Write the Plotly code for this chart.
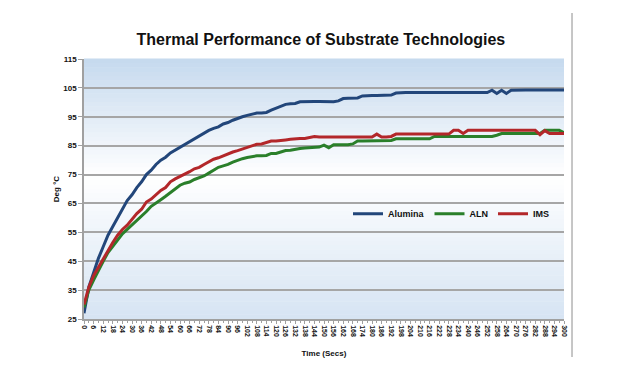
import plotly.graph_objects as go

time_s = list(range(0, 301, 3))

alumina = [27, 36, 41, 46, 50, 54, 57, 60, 63, 66,
           68, 70.5, 72.5, 75, 76.5, 78.5, 80, 81, 82.5, 83.5,
           84.5, 85.5, 86.5, 87.5, 88.5, 89.5, 90.3, 91, 91.5, 92.5,
           93, 93.8, 94.5, 95, 95.5, 96, 96.3, 96.3, 96.5, 97.3,
           98, 98.5, 99.3, 99.5, 99.6, 100.2, 100.3, 100.3, 100.3, 100.3,
           100.3, 100.2, 100.2, 100.5, 101.3, 101.4, 101.4, 101.5, 102.2, 102.4,
           102.4, 102.4, 102.4, 102.4, 102.5, 103.2, 103.4, 103.4, 103.4, 103.4,
           103.4, 103.4, 103.4, 103.4, 103.4, 103.4, 103.4, 103.4, 103.4, 103.4,
           103.4, 103.4, 103.4, 103.4, 103.4, 104.2, 103.1, 104.2, 103.1, 104.2,
           104.3, 104.3, 104.3, 104.3, 104.3, 104.3, 104.3, 104.3, 104.3, 104.3,
           104.3]

aln = [29, 35, 38.5, 42, 45, 48, 50.3, 52.5, 54.5, 56,
       57.5, 59.3, 60.8, 62.2, 64, 65.3, 66.3, 67.5, 68.7, 69.8,
       71.3, 72, 72.4, 73.3, 74, 74.5, 75.5, 76.5, 77.5, 78,
       78.5, 79.3, 80, 80.5, 80.9, 81.2, 81.5, 81.5, 81.6, 82.3,
       82.3, 82.8, 83.3, 83.4, 83.8, 84, 84.2, 84.3, 84.3, 84.5,
       85.2, 84.3, 85.3, 85.3, 85.3, 85.3, 85.6, 86.6, 86.6, 86.6,
       86.6, 86.6, 86.6, 86.6, 86.8, 87.4, 87.4, 87.4, 87.4, 87.4,
       87.4, 87.4, 87.4, 88.2, 88.2, 88.2, 88.2, 88.2, 88.2, 88.2,
       88.2, 88.2, 88.2, 88.2, 88.2, 88.2, 88.6, 89.2, 89.2, 89.2,
       89.2, 89.2, 89.2, 89.2, 89.2, 89.2, 90.3, 90.3, 90.3, 90.3,
       89.5]

ims = [30, 36, 40, 43, 46, 49, 51.5, 54, 56, 57.5,
       59.5, 61.5, 63, 65.5, 66.5, 68, 69.5, 70.5, 72.5, 73.5,
       74.3, 75, 76, 77, 77.5, 78.5, 79.5, 80.3, 80.8, 81.5,
       82, 82.8, 83.3, 83.8, 84.3, 85, 85.5, 85.6, 86.2, 86.6,
       86.6, 86.7, 87, 87.2, 87.4, 87.5, 87.5, 87.8, 88.2, 88,
       88, 88, 88, 88, 88, 88, 88, 88, 88, 88,
       88, 89, 88, 88, 88.2, 89, 89, 89, 89, 89,
       89, 89, 89, 89, 89, 89, 89, 90.3, 90.3, 89.2,
       90.3, 90.3, 90.3, 90.3, 90.3, 90.3, 90.3, 90.3, 90.3, 90.3,
       90.3, 90.3, 90.3, 90.3, 90.3, 88.8, 90.2, 89.2, 89.2, 89.2,
       89.2]

x_tick_vals = list(range(0, 301, 6))
x_tick_text = [str(v) for v in x_tick_vals]
y_tick_vals = list(range(25, 116, 10))

series_names = ["Alumina", "ALN", "IMS"]
series_colors = ["#22467a", "#2a7f2a", "#b3272a"]
series_values = [alumina, aln, ims]

FONT = "Liberation Sans, Arial, sans-serif"

fig = go.Figure()
for name, col, vals in zip(series_names, series_colors, series_values):
    fig.add_trace(go.Scatter(x=time_s, y=vals, mode="lines", name="<b>%s</b>" % name,
                             line=dict(color=col, width=3)))

# gradient plot background (decorative bands)
def lerp(c1, c2, f):
    return tuple(round(a + (b - a) * f) for a, b in zip(c1, c2))

top_c = (197, 217, 238)
mid_c = (255, 255, 255)
bot_c = (214, 228, 243)
n_bands = 60
mid_pos = 0.55
shapes = []
for i in range(n_bands):
    y0 = i / n_bands
    y1 = (i + 1) / n_bands
    yc = (y0 + y1) / 2
    if yc < mid_pos:
        c = lerp(bot_c, mid_c, yc / mid_pos)
    else:
        c = lerp(mid_c, top_c, (yc - mid_pos) / (1 - mid_pos))
    shapes.append(dict(type="rect", xref="x domain", yref="y domain",
                       x0=0, x1=1, y0=y0, y1=y1 + 0.002, layer="below",
                       line=dict(width=0), fillcolor="rgb(%d,%d,%d)" % c))
shapes.append(dict(type="line", xref="paper", yref="paper",
                   x0=1.0167, x1=1.0167, y0=-0.146, y1=1.177,
                   line=dict(color="#a0a0a0", width=1.2)))

fig.update_layout(
    width=622, height=384,
    margin=dict(l=76, r=66, t=51, b=73, autoexpand=False),
    paper_bgcolor="white",
    plot_bgcolor="rgba(0,0,0,0)",
    shapes=shapes,
    title=dict(text="<b>Thermal Performance of Substrate Technologies</b>",
               x=0.503, xanchor="center", y=0.917, yanchor="middle",
               font=dict(family=FONT, size=16, color="#111111")),
    legend=dict(orientation="h", x=0.55, y=0.405, xanchor="left", yanchor="middle",
                bgcolor="rgba(0,0,0,0)", font=dict(family=FONT, size=9, color="#111111"),
                itemwidth=30, tracegroupgap=0),
    font=dict(family=FONT, color="#111111"),
)

fig.update_xaxes(
    range=[0, 300], tickvals=x_tick_vals, ticktext=["<b>%s</b>" % t for t in x_tick_text],
    tickangle=90, tickfont=dict(family=FONT, size=7, color="#111111"),
    showgrid=False, showline=True, linecolor="#a0a0a0", linewidth=1.5,
    ticks="outside", ticklen=3, tickcolor="#a0a0a0",
    minor=dict(dtick=3, tick0=0, ticks="outside", ticklen=2, tickcolor="#a0a0a0"),
    title=dict(text="<b>Time (Secs)</b>", font=dict(family=FONT, size=8, color="#111111"),
               standoff=14),
    zeroline=False, automargin=False,
)
fig.update_yaxes(
    range=[25, 115], tickvals=y_tick_vals,
    ticktext=["<b>%d</b>" % v for v in y_tick_vals],
    tickfont=dict(family=FONT, size=8, color="#111111"),
    showgrid=True, gridcolor="#a6a6a6", gridwidth=1.5,
    showline=True, linecolor="#a0a0a0", linewidth=1.5,
    ticks="outside", ticklen=4, tickcolor="#a0a0a0",
    title=dict(text="<b>Deg °C</b>", font=dict(family=FONT, size=8, color="#111111"),
               standoff=2),
    zeroline=False, automargin=False,
)

fig.write_html("out.html")
